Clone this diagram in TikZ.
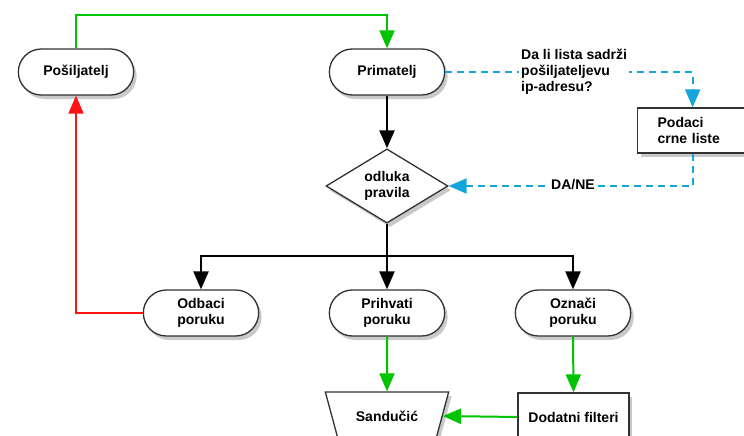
\documentclass[tikz,border=0pt]{standalone}
\usepackage{fontspec}
\setmainfont{Liberation Sans}
\usetikzlibrary{shapes.geometric}
\usetikzlibrary{shapes.misc}
\usetikzlibrary{arrows.meta}
\usetikzlibrary{shadows}
\usetikzlibrary{positioning}
\definecolor{flowgreen}{RGB}{0,196,0}
\definecolor{flowblue}{RGB}{20,165,220}
\definecolor{flowred}{RGB}{250,20,20}
\definecolor{edgegray}{RGB}{50,50,50}

\begin{document}
\begin{tikzpicture}[x=1pt,y=-1pt,
        >={Triangle[length=18pt,width=15pt]},
        every node/.style = {font=\fontsize{14}{16}\selectfont\bfseries},
        shade/.style = {drop shadow={shadow xshift=3pt,shadow yshift=-4pt,
            opacity=0.3,fill=black!70}},
        pill/.style = {rounded rectangle,draw=edgegray,line width=1.3pt,
            fill=white,shade,align=center,minimum width=122pt,minimum height=46pt},
        box/.style = {rectangle,draw=edgegray,line width=1.3pt,fill=white,
            shade,align=left},
        decision/.style = {diamond,draw=edgegray,line width=1.3pt,fill=white,
            shade,align=center,inner sep=0pt,minimum width=122pt,minimum height=67pt},
        merge/.style = {trapezium,shape border rotate=180,trapezium stretches=true,
            trapezium left angle=62,trapezium right angle=62,draw=edgegray,
            line width=1.3pt,fill=white,shade,minimum width=124pt,minimum height=48pt},
        tag/.style = {fill=white,inner sep=2pt,align=left},
        ok/.style = {->,flowgreen,line width=2pt},
        query/.style = {->,flowblue,line width=2pt,dash pattern=on 7pt off 5pt},
        flow/.style = {->,black,line width=2.5pt},
        back/.style = {->,flowred,line width=2pt}]
        \path[use as bounding box,clip] (0,0) rectangle (744,436);
        \node[pill](posil) at (76,72) {Pošiljatelj};
        \node[pill](prim) at (387,72) {Primatelj};
        \node[box,anchor=west,inner xsep=20pt,text width=70pt,minimum height=45pt]
            (crna) at (637,130.5) {Podaci\\crne liste};
        \node[decision](odluka) at (387,186) {odluka\\pravila};
        \node[pill](odbaci) at (201,313) {Odbaci\\poruku};
        \node[pill](prihvati) at (387,313) {Prihvati\\poruku};
        \node[pill](oznaci) at (573,313) {Označi\\poruku};
        \node[merge](sanduc) at (387,416) {Sandučić};
        \node[box,minimum width=111pt,minimum height=48pt]
            (filteri) at (573.5,417) {Dodatni filteri};
        \coordinate (split) at (387,256);
        \draw[ok] (posil.north) -- ++(0,-33.5) -| (prim.north);
        \draw[query] (prim.east) -| (crna.north);
        \draw[query] (crna.south) |- (odluka.east);
        \node[tag,anchor=west](pitanje) at (519,72)
            {Da li lista sadrži\\pošiljateljevu\\ip-adresu?};
        \node[tag](odgovor) at (573,185) {DA/NE};
        \draw[flow] (prim.south) -- (odluka.north);
        \draw[black,line width=2.5pt] (odluka.south) -- (split);
        \draw[flow] (split) -| (odbaci.north);
        \draw[flow] (split) -- (prihvati.north);
        \draw[flow] (split) -| (oznaci.north);
        \draw[back] (odbaci.west) -| (posil.south);
        \draw[ok] (prihvati.south) -- (sanduc.north);
        \draw[ok] (oznaci.south) -- (filteri.north);
        \draw[ok] (filteri.west) -- (sanduc.0);
    \end{tikzpicture}
\end{document}
